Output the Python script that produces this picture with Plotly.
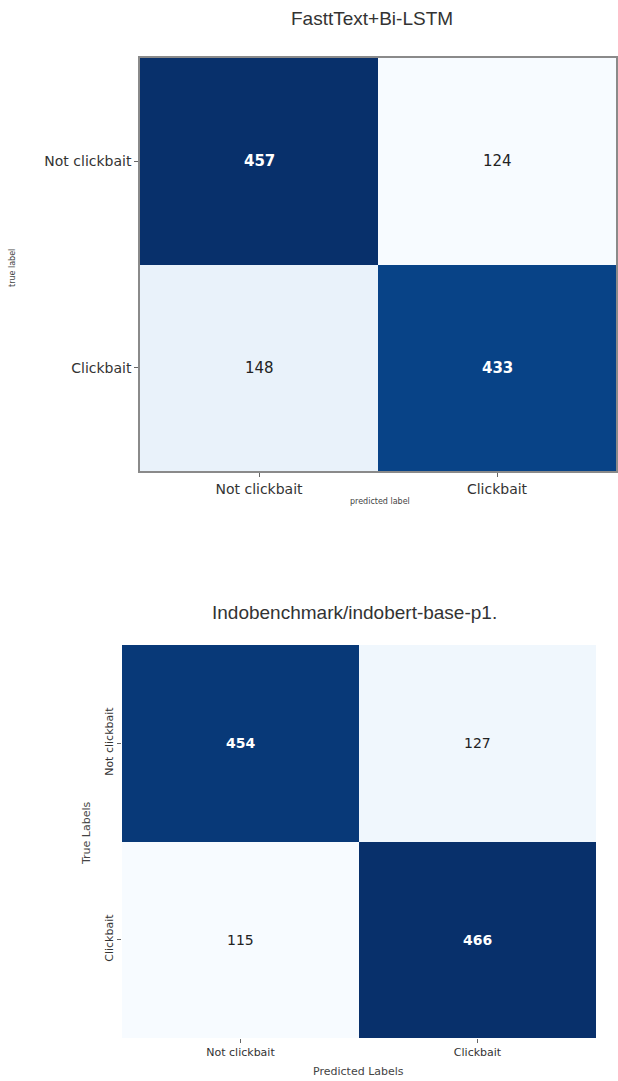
import plotly.graph_objects as go

W, H = 618, 1081

labels = ["Not clickbait", "Clickbait"]

# FasttText+Bi-LSTM confusion matrix (rows = true, cols = predicted)
cm_top = [[457, 124],
          [148, 433]]
# Indobenchmark/indobert-base-p1. confusion matrix
cm_bot = [[454, 127],
          [115, 466]]

title_top = "FasttText+Bi-LSTM"
title_bot = "Indobenchmark/indobert-base-p1."

blues = [[0.0, "#f7fbff"], [0.125, "#deebf7"], [0.25, "#c6dbef"], [0.375, "#9ecae1"],
         [0.5, "#6baed6"], [0.625, "#4292c6"], [0.75, "#2171b5"], [0.875, "#08519c"],
         [1.0, "#08306b"]]

def px_x(p):
    return p / W

def px_y(p):
    return 1 - p / H

fig = go.Figure()

fig.add_trace(go.Heatmap(z=cm_top, x=labels, y=labels, colorscale=blues,
                         showscale=False, xaxis="x", yaxis="y", hoverinfo="skip"))
fig.add_trace(go.Heatmap(z=cm_bot, x=labels, y=labels, colorscale=blues,
                         showscale=False, xaxis="x2", yaxis="y2", hoverinfo="skip"))

annotations = []
for cm, xa, ya, fsize in [(cm_top, "x", "y", 15), (cm_bot, "x2", "y2", 14)]:
    flat = [v for r in cm for v in r]
    mid = (max(flat) + min(flat)) / 2
    for i, row in enumerate(cm):
        for j, v in enumerate(row):
            dark = v > mid
            annotations.append(dict(
                x=labels[j], y=labels[i], xref=xa, yref=ya, text=f"<b>{v}</b>" if dark else str(v),
                showarrow=False,
                font=dict(family="DejaVu Sans", size=fsize, color="white" if dark else "#222222")))

def lab(text, x, y, size, family="DejaVu Sans", angle=0, color="#444444"):
    return dict(text=text, x=px_x(x), y=px_y(y), xref="paper", yref="paper", showarrow=False,
                xanchor="center", yanchor="middle", textangle=angle,
                font=dict(family=family, size=size, color=color))

annotations += [
    lab(title_top, 372, 19, 19, "Liberation Sans", color="#333333"),
    lab(title_bot, 354, 612, 19, "Liberation Sans", color="#333333"),
    lab("true label", 12, 268, 8, angle=-90),
    lab("predicted label", 380, 502, 8),
    lab("True Labels", 86, 833, 11, angle=-90),
    lab("Predicted Labels", 358, 1071, 11),
]

axis_common = dict(showgrid=False, zeroline=False, ticks="outside", ticklen=4,
                   tickcolor="#666666", fixedrange=True)

fig.update_layout(
    width=W, height=H, margin=dict(l=0, r=0, t=0, b=0),
    paper_bgcolor="white", plot_bgcolor="white",
    annotations=annotations,
    xaxis=dict(domain=[px_x(140), px_x(616)], anchor="y", showline=True, mirror=True,
               linecolor="#8a8a8a", linewidth=1.5,
               tickfont=dict(family="DejaVu Sans", size=14, color="#333333"), **axis_common),
    yaxis=dict(domain=[px_y(471), px_y(58)], anchor="x", autorange="reversed", showline=True,
               mirror=True, linecolor="#8a8a8a", linewidth=1.5,
               tickfont=dict(family="DejaVu Sans", size=14, color="#333333"), **axis_common),
    xaxis2=dict(domain=[px_x(122), px_x(596)], anchor="y2", showline=False,
                tickfont=dict(family="DejaVu Sans", size=11, color="#333333"), **axis_common),
    yaxis2=dict(domain=[px_y(1038), px_y(645)], anchor="x2", autorange="reversed", showline=False,
                tickangle=-90,
                tickfont=dict(family="DejaVu Sans", size=11, color="#333333"), **axis_common),
)

fig.write_html("out.html")
